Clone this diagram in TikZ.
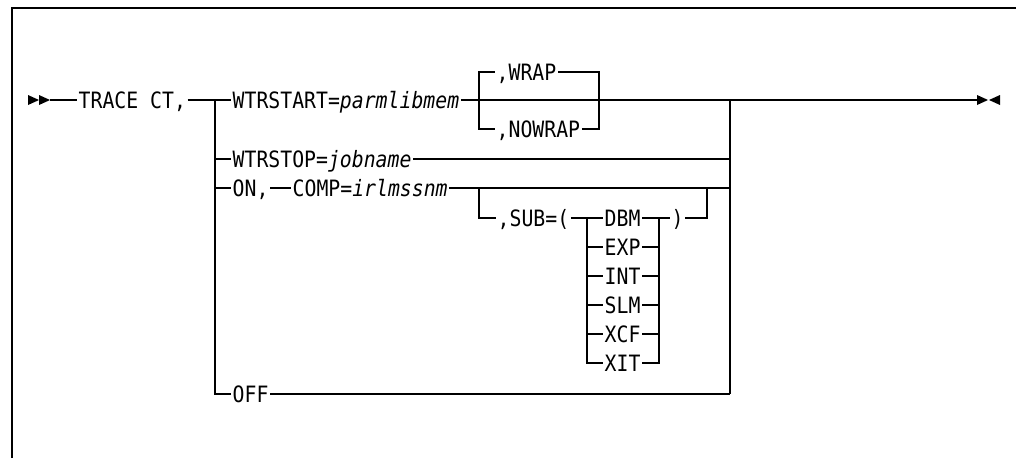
\documentclass[tikz,border=0pt]{standalone}
\usepackage{fontspec}
\newfontfamily\dia[FakeStretch=0.88]{DejaVu Sans Mono}
\begin{document}
\begin{tikzpicture}[x=1pt,y=-1pt,
  lbl/.style={font=\dia\fontsize{22.5pt}{24pt}\selectfont, anchor=west, inner xsep=1.5pt, inner ysep=0pt, text height=16.4pt, text depth=0pt},
  ln/.style={line width=1.3pt},
  frame/.style={line width=1.6pt}]
\useasboundingbox (0,0) rectangle (1016,458);
\draw[frame] (12,458) -- (12,8) -- (1016,8);

% start marker
\coordinate (s) at (50,100);
\fill (28,95) -- (39,100) -- (28,105) -- cycle;
\fill (39,95) -- (50,100) -- (39,105) -- cycle;

\node[lbl] (trace) at (77,100) {TRACE CT,};
\coordinate (b1) at (215,100);
\coordinate (r1) at (730,100);
\coordinate (e) at (977,100);

\node[lbl] (wst) at (231,100) {WTRSTART=\textit{parmlibmem}};
\node[lbl] (wstop) at (231,159) {WTRSTOP=\textit{jobname}};
\node[lbl] (on) at (231,188) {ON,};
\node[lbl] (comp) at (291,188) {COMP=\textit{irlmssnm}};
\node[lbl] (off) at (231,394) {OFF};

\draw[ln] (s) -- (trace.west);
\draw[ln] (trace.east) -- (b1) -- (wst.west);
\draw[ln] (b1) |- (wstop.west);
\draw[ln] (b1) |- (on.west);
\draw[ln] (b1) |- (off.west);

% WRAP / NOWRAP
\coordinate (wl) at (479,100);
\coordinate (wr) at (599,100);
\node[lbl] (wrap) at (495,72) {,WRAP};
\node[lbl] (nowrap) at (495,129) {,NOWRAP};
\draw[ln] (wst.east) -- (wl) -- (wr) -- (r1) -- (e);
\draw[line width=2.4pt] (737,100) -- (759,100);
\draw[ln] (wl) |- (wrap.west);
\draw[ln] (wl) |- (nowrap.west);
\draw[ln] (wrap.east) -| (wr);
\draw[ln] (nowrap.east) -| (wr);

% right collector
\draw[ln] (r1) -- (off.east -| r1);
\draw[ln] (wstop.east) -- (wstop.east -| r1);
\draw[ln] (on.east) -- (comp.west);
\draw[ln] (comp.east) -- (comp.east -| r1);
\draw[ln] (off.east) -- (off.east -| r1);

% SUB group
\coordinate (sb) at (479,188);
\coordinate (sr) at (707,188);
\node[lbl] (sub) at (496,218) {,SUB=(};
\coordinate (il) at (587,218);
\coordinate (ir) at (659,218);
\node[lbl] (dbm) at (603,218) {DBM};
\node[lbl] (exp) at (603,247) {EXP};
\node[lbl] (int) at (603,276) {INT};
\node[lbl] (slm) at (603,305) {SLM};
\node[lbl] (xcf) at (603,334) {XCF};
\node[lbl] (xit) at (603,363) {XIT};
\node[lbl] (close) at (670,218) {)};
\draw[ln] (sb) |- (sub.west);
\draw[ln] (sub.east) -- (il) -- (dbm.west);
\draw[ln] (dbm.east) -- (ir) -- (close.west);
\draw[ln] (close.east) -| (sr);
\foreach \n in {exp,int,slm,xcf,xit}{
  \draw[ln] (il) |- (\n.west);
  \draw[ln] (\n.east) -| (ir);
}

% end marker
\fill (977,95) -- (988,100) -- (977,105) -- cycle;
\fill (1000,95) -- (989,100) -- (1000,105) -- cycle;
\end{tikzpicture}
\end{document}
